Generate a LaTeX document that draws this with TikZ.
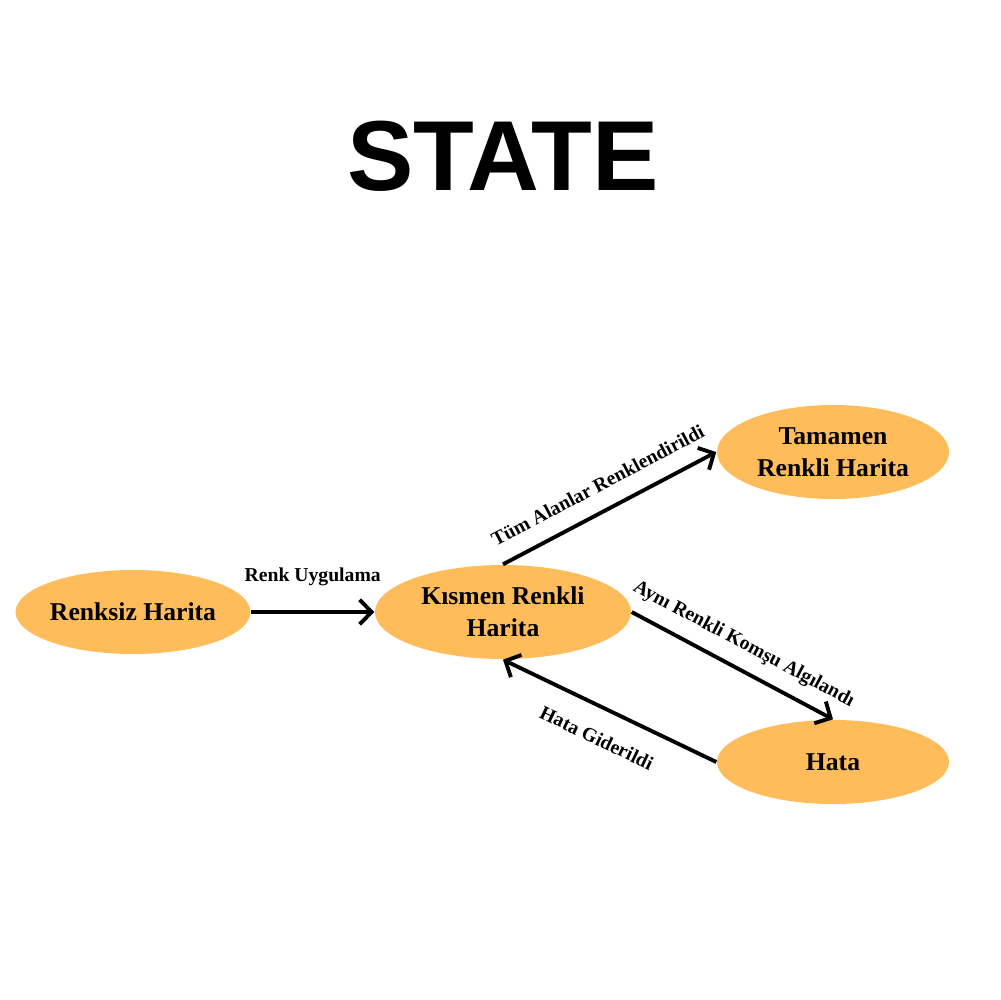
\documentclass[tikz,border=0pt]{standalone}
\usepackage{fontspec}
\setmainfont{Liberation Serif}
\newfontfamily\titlefont{Liberation Sans}
\usepackage{tikz}
\usetikzlibrary{shapes.geometric,arrows.meta,positioning}
\definecolor{stateorange}{HTML}{FEBC5A}

\begin{document}
\begin{tikzpicture}[
    x=0.1mm, y=-0.1mm,
    font=\bfseries\fontsize{7.3}{9.1}\selectfont,
    >={Straight Barb[length=3.4pt,width=7pt]},
    state/.style={ellipse, fill=stateorange, minimum width=23.2mm, minimum height=8.4mm,
      align=center, inner sep=0pt},
    tallstate/.style={state, minimum height=9.4mm},
    flow/.style={->, line width=1.1pt, draw=black},
    elab/.style={font=\bfseries\fontsize{5.6}{6.7}\selectfont, inner sep=2pt}
  ]
  \useasboundingbox (0,0) rectangle (1000,1000);
  \node[font=\titlefont\bfseries\fontsize{28.3}{34}\selectfont] (title) at (503,156) {STATE};
  \node[state] (renksiz) at (133,612) {Renksiz Harita};
  \node[tallstate, minimum width=25.6mm] (kismen) at (503,612) {Kısmen Renkli\\Harita};
  \node[tallstate] (tamamen) at (833,452) {Tamamen\\Renkli Harita};
  \node[state] (hata) at (833,762) {Hata};
  \draw[flow] (renksiz.east)--(kismen.west)
    node[midway, elab, above=5pt]{Renk Uygulama};
  \draw[flow] (kismen.north)--(tamamen.west)
    node[midway, elab, sloped, above=2.8pt]{Tüm Alanlar Renklendirildi};
  \draw[flow] (kismen.east)--(hata.north)
    node[midway, elab, sloped, above=1.7pt]{Aynı Renkli Komşu Algılandı};
  \draw[flow] (hata.west)--(kismen.south)
    node[midway, elab, sloped, below=4pt]{Hata Giderildi};
\end{tikzpicture}
\end{document}
